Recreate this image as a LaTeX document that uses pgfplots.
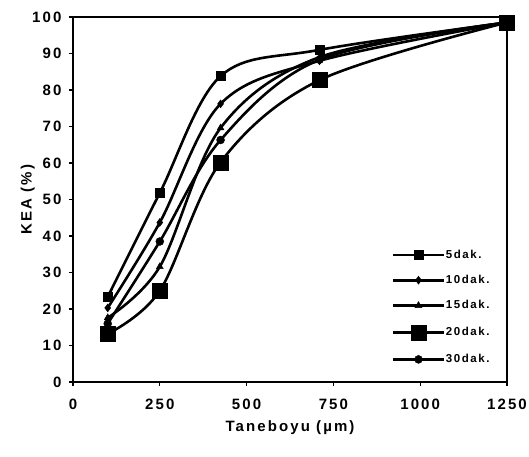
\documentclass[border=0pt]{standalone}
\usepackage{pgfplots}
\pgfplotsset{compat=1.18}
\usepackage{fontspec}
\setmainfont{Liberation Sans}[LetterSpace=14.0]
\begin{document}
\begin{tikzpicture}
\path[use as bounding box] (-73pt,-74pt) rectangle (456pt,382pt);
\begin{axis}[
  at={(0,0)}, anchor=south west,
  scale only axis, width=434pt, height=365pt,
  xmin=0, xmax=1250, ymin=0, ymax=100,
  xtick={0,250,...,1250}, ytick={0,10,...,100},
  tick align=outside, tick pos=left,
  major tick length=4pt,
  every tick/.style={line width=1.2pt, black},
  axis line style={line width=1.8pt},
  /pgf/number format/assume math mode=true,
  /pgf/number format/set thousands separator={},
  ticklabel style={font=\fontsize{15}{17}\selectfont\bfseries},
  xticklabel style={yshift=-9pt},
  yticklabel style={xshift=-4pt},
  xlabel={Taneboyu (µm)}, ylabel={KEA (\%)},
  label style={font=\fontsize{15}{17}\selectfont\bfseries},
  xlabel style={at={(axis description cs:0.5,-0.125)}, anchor=center},
  ylabel style={at={(axis description cs:-0.104,0.5)}, anchor=center},
  legend style={at={(rel axis cs:0.735,0.365)}, anchor=north west, draw=none, fill=none,
    font=\fontsize{11.5}{13}\selectfont\bfseries, row sep=13.5pt, inner sep=0pt,
    nodes={inner sep=1pt}},
  legend cell align=left,
  legend image code/.code={\draw[line width=2.6pt, mark repeat=2,mark phase=2] plot coordinates {(0pt,0pt) (25pt,0pt) (50pt,0pt)};},
]
\pgfplotsset{myp/.style={black, line width=2.6pt, smooth, tension=0.55, mark options={solid, fill=black, line width=0.4pt}}}
\addplot[myp, mark=square*, mark size=4.5pt] coordinates {(100,23.3) (250,51.8) (425,83.8) (710,91) (1250,98.5)};
\addlegendentry{5dak.}
\addplot[myp, mark=diamond*, mark size=4pt] coordinates {(100,20.3) (250,43.7) (425,76.2) (710,88) (1250,98.5)};
\addlegendentry{10dak.}
\addplot[myp, mark=triangle*, mark size=4pt] coordinates {(100,17.6) (250,31.6) (425,69.6) (710,89) (1250,98.5)};
\addlegendentry{15dak.}
\addplot[myp, mark=square*, mark size=7.5pt] coordinates {(100,13.2) (250,25) (425,60.2) (710,82.7) (1250,98.5)};
\addlegendentry{20dak.}
\addplot[myp, mark=*, mark size=4pt] coordinates {(100,16) (250,38.5) (425,66.3) (710,88.3) (1250,98.5)};
\addlegendentry{30dak.}
\end{axis}
\end{tikzpicture}
\end{document}
